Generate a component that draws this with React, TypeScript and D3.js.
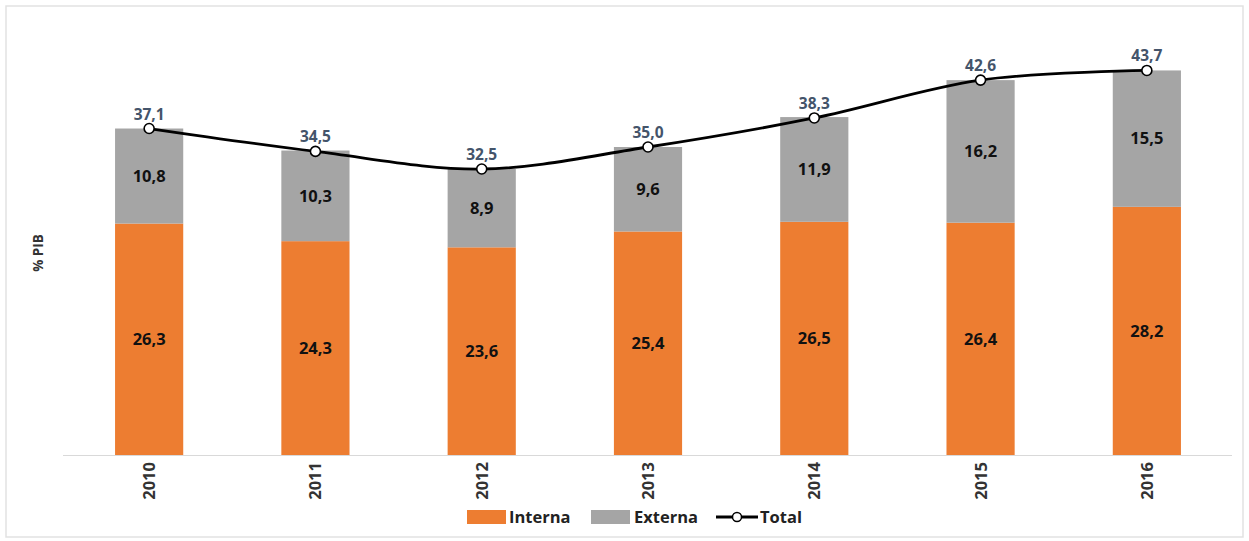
import React from "react";
import * as d3 from "d3";

const years = ["2010", "2011", "2012", "2013", "2014", "2015", "2016"];
const interna = [26.3, 24.3, 23.6, 25.4, 26.5, 26.4, 28.2];
const externa = [10.8, 10.3, 8.9, 9.6, 11.9, 16.2, 15.5];
const total = [37.1, 34.5, 32.5, 35.0, 38.3, 42.6, 43.7];

const W = 1249;
const H = 541;
const FONT = "'Open Sans', 'Noto Sans', sans-serif";
const fmt = (v: number) => v.toFixed(1).replace(".", ",");

export default function App() {
  const baseY = 455;
  const x = d3.scaleBand().domain(years).range([66, 1230]).paddingInner(0.59).paddingOuter(0.295);
  const y = d3.scaleLinear().domain([0, 50]).range([baseY, baseY - 50 * 8.8]);
  const bw = x.bandwidth();
  const cx = (yr: string) => (x(yr) as number) + bw / 2;

  const line = d3
    .line<number>()
    .x((_, i) => cx(years[i]))
    .y((d) => y(d))
    .curve(d3.curveCatmullRom.alpha(0.5));

  return (
    <svg
      width={W}
      height={H}
      style={{ position: "absolute", left: 0, top: 0, background: "#fff" }}
      fontFamily={FONT}
    >
      <rect x={6} y={6} width={W - 12} height={H - 10} fill="none" stroke="#e2e2e2" strokeWidth={1.5} />
      {/* y label */}
      <text
        transform={`translate(43,${253}) rotate(-90)`}
        textAnchor="middle"
        fontSize={13.5}
        fontWeight={700}
        fill="#333"
      >
        % PIB
      </text>
      {/* bars */}
      {years.map((yr, i) => (
        <g key={yr}>
          <rect x={x(yr)} y={y(interna[i])} width={bw} height={baseY - y(interna[i])} fill="#ED7D31" />
          <rect
            x={x(yr)}
            y={y(interna[i] + externa[i])}
            width={bw}
            height={y(interna[i]) - y(interna[i] + externa[i])}
            fill="#A5A5A5"
          />
          <text
            x={cx(yr)}
            y={(y(interna[i]) + baseY) / 2}
            dy="0.35em"
            textAnchor="middle"
            fontSize={16.5}
            fontWeight={700}
            fill="#111"
          >
            {fmt(interna[i])}
          </text>
          <text
            x={cx(yr)}
            y={(y(interna[i]) + y(interna[i] + externa[i])) / 2}
            dy="0.35em"
            textAnchor="middle"
            fontSize={16.5}
            fontWeight={700}
            fill="#111"
          >
            {fmt(externa[i])}
          </text>
        </g>
      ))}
      {/* axis */}
      <line x1={63} x2={1232} y1={baseY + 0.5} y2={baseY + 0.5} stroke="#d9d9d9" strokeWidth={1.2} />
      {years.map((yr) => (
        <text
          key={yr}
          transform={`translate(${cx(yr) + 6},${462}) rotate(-90)`}
          textAnchor="end"
          fontSize={16.5}
          fontWeight={700}
          fill="#333"
        >
          {yr}
        </text>
      ))}
      {/* line */}
      <path d={line(total) || ""} fill="none" stroke="#000" strokeWidth={2.8} />
      {total.map((v, i) => (
        <g key={i}>
          <circle cx={cx(years[i])} cy={y(v)} r={5} fill="#fff" stroke="#000" strokeWidth={1.6} />
          <text
            x={cx(years[i])}
            y={y(v) - 9}
            textAnchor="middle"
            fontSize={15.5}
            fontWeight={700}
            fill="#44546A"
          >
            {fmt(v)}
          </text>
        </g>
      ))}
      {/* legend */}
      <g fontSize={16.5} fontWeight={700} fill="#222">
        <rect x={467} y={510} width={39} height={14} fill="#ED7D31" />
        <text x={509} y={523}>Interna</text>
        <rect x={591} y={510} width={39} height={14} fill="#A5A5A5" />
        <text x={634} y={523}>Externa</text>
        <line x1={716} x2={758} y1={517} y2={517} stroke="#000" strokeWidth={2.8} />
        <circle cx={737} cy={517} r={4.5} fill="#fff" stroke="#000" strokeWidth={1.5} />
        <text x={760} y={523}>Total</text>
      </g>
    </svg>
  );
}
